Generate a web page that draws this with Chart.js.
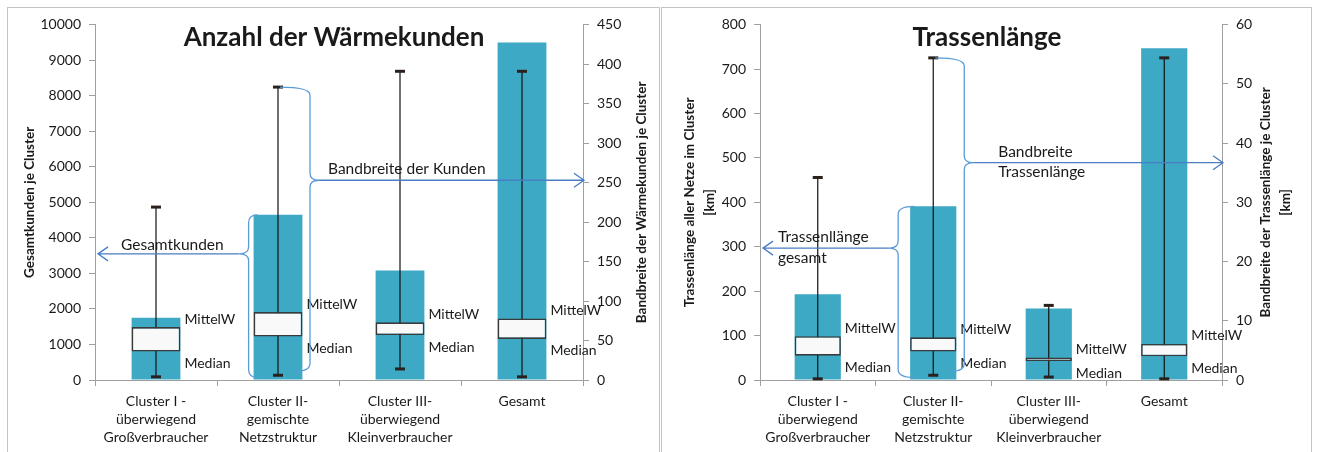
<!DOCTYPE html>
<html lang="de">
<head>
<meta charset="utf-8">
<title>Wärmekunden und Trassenlänge</title>
<script src="https://cdn.jsdelivr.net/npm/chart.js@4.4.1/dist/chart.umd.min.js"></script>
<style>
  body { margin: 0; background: #fff; width: 1319px; height: 452px; overflow: hidden; position: relative; }
  .panel { position: absolute; top: 7px; height: 460px; border: 1px solid #c4c4c4; }
  #panelLeft { left: 7px; width: 651px; }
  #panelRight { left: 661px; width: 649px; }
  canvas { position: absolute; left: 0; top: 0; }
</style>
</head>
<body>
<div class="panel" id="panelLeft"><canvas id="kundenChart" width="651" height="444"></canvas></div>
<div class="panel" id="panelRight"><canvas id="trasseChart" width="649" height="444"></canvas></div>

<script>
// ---- Daten ----
const categories = [
    ['Cluster I -', 'überwiegend', 'Großverbraucher'],
    ['Cluster II-', 'gemischte', 'Netzstruktur'],
    ['Cluster III-', 'überwiegend', 'Kleinverbraucher'],
    'Gesamt'
];

// Anzahl der Wärmekunden (Balken: linke Achse, Box/Bandbreite: rechte Achse)
const kundenGesamt = [1750, 4650, 3080, 9500];
const kundenMin = [4, 6, 14, 4];
const kundenMax = [219, 371, 391, 391];
const kundenMedian = [36, 55, 57, 52];
const kundenMittelW = [67, 86, 73, 78];
const kundenLeftTicks = { max: 10000, step: 1000 };
const kundenRightTicks = { max: 450, step: 50 };

// Trassenlänge [km]
const trasseGesamt = [193, 391, 161, 747];
const trasseMin = [0.2, 0.8, 0.5, 0.2];
const trasseMax = [34.2, 54.4, 12.6, 54.4];
const trasseMedian = [4.1, 4.8, 3.2, 4.0];
const trasseMittelW = [7.4, 7.2, 3.8, 6.1];
const trasseLeftTicks = { max: 800, step: 100 };
const trasseRightTicks = { max: 60, step: 10 };

// ---- Styles ----
const FONT = 'Lato, "Liberation Sans", sans-serif';
const textColor = '#1a1a1a';
const axisGray = '#a0a0a0';
const barColor = '#3da9c5';
const arrowBlue = '#4a7ec4';
const braceBlue = '#5b9bd5';

Chart.defaults.font.family = FONT;
Chart.defaults.color = textColor;

function drawBrace(ctx, xTopEnd, xBotEnd, bx, top, bot, tipY, dir) {
    ctx.beginPath();
    ctx.moveTo(xTopEnd, top);
    ctx.quadraticCurveTo(bx, top, bx, top + 8);
    ctx.lineTo(bx, tipY - 7);
    ctx.quadraticCurveTo(bx, tipY, bx + dir * 9, tipY);
    ctx.moveTo(bx + dir * 9, tipY);
    ctx.quadraticCurveTo(bx, tipY, bx, tipY + 7);
    ctx.lineTo(bx, bot - 8);
    ctx.quadraticCurveTo(bx, bot, xBotEnd, bot);
    ctx.stroke();
}

function drawArrow(ctx, x0, x1, y) {
    const dir = x1 > x0 ? 1 : -1;
    ctx.beginPath();
    ctx.moveTo(x0, y);
    ctx.lineTo(x1, y);
    ctx.moveTo(x1 - dir * 10, y - 7);
    ctx.lineTo(x1, y);
    ctx.lineTo(x1 - dir * 10, y + 7);
    ctx.stroke();
}

function drawRotated(ctx, lines, x, y, gap) {
    ctx.save();
    ctx.translate(x, y);
    ctx.rotate(-Math.PI / 2);
    lines.forEach((line, i) => ctx.fillText(line, 0, i * gap));
    ctx.restore();
}

// Whisker-Kappen, Beschriftungen, Klammern, Titel
const boxPlotExtras = {
    id: 'boxPlotExtras',
    afterDatasetDraw(chart, args) {
        if (args.index !== 1) return;
        const ctx = chart.ctx;
        ctx.save();
        ctx.fillStyle = '#2a211d';
        args.meta.data.forEach(el => {
            const top = Math.min(el.y, el.base);
            const bot = Math.max(el.y, el.base);
            ctx.fillRect(el.x - 5, top - 1.5, 10, 3);
            ctx.fillRect(el.x - 5, bot - 1.5, 10, 3);
        });
        ctx.restore();
    },
    afterDatasetsDraw(chart, args, opts) {
        const { ctx, chartArea, scales } = chart;
        const boxMeta = chart.getDatasetMeta(0);
        const whiskMeta = chart.getDatasetMeta(1);
        const barMeta = chart.getDatasetMeta(2);

        ctx.save();
        ctx.fillStyle = textColor;
        ctx.font = '14px ' + FONT;
        ctx.textAlign = 'left';
        ctx.textBaseline = 'middle';
        boxMeta.data.forEach(el => {
            const top = Math.min(el.y, el.base);
            const bot = Math.max(el.y, el.base);
            const x = el.x + el.width / 2 + 4;
            ctx.fillText('MittelW', x, top - 8);
            ctx.fillText('Median', x, bot + 12);
        });

        ctx.font = '15.5px ' + FONT;

        // Bandbreite (rechte Achse)
        const rb = opts.rangeBrace;
        const w = whiskMeta.data[rb.index];
        const wTop = Math.min(w.y, w.base);
        const wBot = Math.max(w.y, w.base);
        const ry = scales.y1.getPixelForValue(rb.level);
        const rbx = w.x + rb.gap;
        ctx.lineWidth = 1.3;
        ctx.strokeStyle = braceBlue;
        drawBrace(ctx, w.x + 2, w.x + 18, rbx, wTop, wBot - 4, ry, 1);
        ctx.strokeStyle = arrowBlue;
        drawArrow(ctx, rbx + 9, chartArea.right + 1, ry);
        rb.lines.forEach((t, i) => ctx.fillText(t, rbx + 9 + rb.textDx, ry + rb.textDy[i]));

        // Gesamtwert (linke Achse)
        const tb = opts.totalBrace;
        const b = barMeta.data[tb.index];
        const barLeft = b.x - b.width / 2;
        const ly = scales.y.getPixelForValue(tb.level);
        const lbx = barLeft - tb.gap;
        ctx.strokeStyle = braceBlue;
        drawBrace(ctx, barLeft + 4, barLeft + 4, lbx, Math.min(b.y, b.base), Math.max(b.y, b.base) - 2, ly, -1);
        ctx.strokeStyle = arrowBlue;
        drawArrow(ctx, lbx - 9, chartArea.left + 3, ly);
        tb.lines.forEach((t, i) => ctx.fillText(t, chartArea.left + tb.textDx, ly + tb.textDy[i]));

        // Titel
        const cx = (chartArea.left + chartArea.right) / 2;
        const cy = (chartArea.top + chartArea.bottom) / 2;
        ctx.textAlign = 'center';
        ctx.textBaseline = 'alphabetic';
        ctx.font = 'bold 26px ' + FONT;
        ctx.fillText(opts.title, cx + opts.titleDx, opts.titleY);

        ctx.font = 'bold 13.5px ' + FONT;
        ctx.textBaseline = 'middle';
        drawRotated(ctx, opts.leftTitle, opts.leftTitleX, cy, 20);
        drawRotated(ctx, opts.rightTitle, opts.rightTitleX, cy, 20);
        ctx.restore();
    }
};

function numTicks(step) {
    return {
        stepSize: step,
        padding: 8,
        color: textColor,
        font: { size: 14 },
        callback: v => String(v)
    };
}

function makeChart(canvasId, cfg) {
    const ctx = document.getElementById(canvasId);
    return new Chart(ctx, {
        type: 'bar',
        data: {
            labels: categories,
            datasets: [
                {
                    label: 'MittelW / Median',
                    data: cfg.median.map((m, i) => [m, cfg.mean[i]]),
                    yAxisID: 'y1',
                    order: 0,
                    backgroundColor: '#f9f9f9',
                    borderColor: '#3a3a3a',
                    borderWidth: 1.6,
                    borderSkipped: false,
                    barPercentage: 0.4,
                    categoryPercentage: 1
                },
                {
                    label: 'Bandbreite',
                    data: cfg.min.map((m, i) => [m, cfg.max[i]]),
                    yAxisID: 'y1',
                    order: 1,
                    backgroundColor: '#111111',
                    barThickness: 1.2,
                    inflateAmount: 0
                },
                {
                    label: 'Gesamt',
                    data: cfg.total,
                    yAxisID: 'y',
                    order: 2,
                    backgroundColor: barColor,
                    barPercentage: 0.4,
                    categoryPercentage: 1
                }
            ]
        },
        options: {
            responsive: false,
            animation: false,
            layout: { padding: { top: 16.7, left: 0, right: 0, bottom: 0 } },
            datasets: { bar: { grouped: false } },
            plugins: {
                legend: { display: false },
                tooltip: { enabled: false },
                boxPlotExtras: cfg.annot
            },
            scales: {
                x: {
                    grid: { drawOnChartArea: false, tickLength: 6, color: axisGray },
                    border: { color: axisGray },
                    ticks: {
                        color: textColor,
                        font: { size: 14, lineHeight: 1.3 },
                        maxRotation: 0,
                        autoSkip: false,
                        padding: 6
                    },
                    afterFit: s => { s.height = 72; }
                },
                y: {
                    position: 'left',
                    min: 0,
                    max: cfg.leftTicks.max,
                    ticks: numTicks(cfg.leftTicks.step),
                    grid: { drawOnChartArea: false, tickLength: 6, color: axisGray },
                    border: { color: axisGray },
                    afterFit: s => { s.width = cfg.leftWidth; }
                },
                y1: {
                    position: 'right',
                    min: 0,
                    max: cfg.rightTicks.max,
                    ticks: numTicks(cfg.rightTicks.step),
                    grid: { drawOnChartArea: false, tickLength: 6, color: axisGray },
                    border: { color: axisGray },
                    afterFit: s => { s.width = cfg.rightWidth; }
                }
            }
        },
        plugins: [boxPlotExtras]
    });
}

makeChart('kundenChart', {
    total: kundenGesamt, min: kundenMin, max: kundenMax,
    median: kundenMedian, mean: kundenMittelW,
    leftTicks: kundenLeftTicks, rightTicks: kundenRightTicks,
    leftWidth: 87, rightWidth: 76,
    annot: {
        title: 'Anzahl der Wärmekunden', titleDx: -5, titleY: 38,
        leftTitle: ['Gesamtkunden je Cluster'], leftTitleX: 22,
        rightTitle: ['Bandbreite der Wärmekunden je Cluster'], rightTitleX: 634,
        rangeBrace: { index: 1, level: 253, gap: 32, lines: ['Bandbreite der Kunden'], textDx: 9, textDy: [-11] },
        totalBrace: { index: 1, level: 3550, gap: 5, lines: ['Gesamtkunden'], textDx: 26, textDy: [-9] }
    }
});

makeChart('trasseChart', {
    total: trasseGesamt, min: trasseMin, max: trasseMax,
    median: trasseMedian, mean: trasseMittelW,
    leftTicks: trasseLeftTicks, rightTicks: trasseRightTicks,
    leftWidth: 98, rightWidth: 89,
    annot: {
        title: 'Trassenlänge', titleDx: -4, titleY: 38,
        leftTitle: ['Trassenlänge aller Netze im Cluster', '[km]'], leftTitleX: 28,
        rightTitle: ['Bandbreite der Trassenlänge je Cluster', '[km]'], rightTitleX: 604,
        rangeBrace: { index: 1, level: 36.7, gap: 31, lines: ['Bandbreite', 'Trassenlänge'], textDx: 25, textDy: [-11, 9] },
        totalBrace: { index: 1, level: 297, gap: 12, lines: ['Trassenllänge', 'gesamt'], textDx: 18, textDy: [-11, 10] }
    }
});
</script>
</body>
</html>
